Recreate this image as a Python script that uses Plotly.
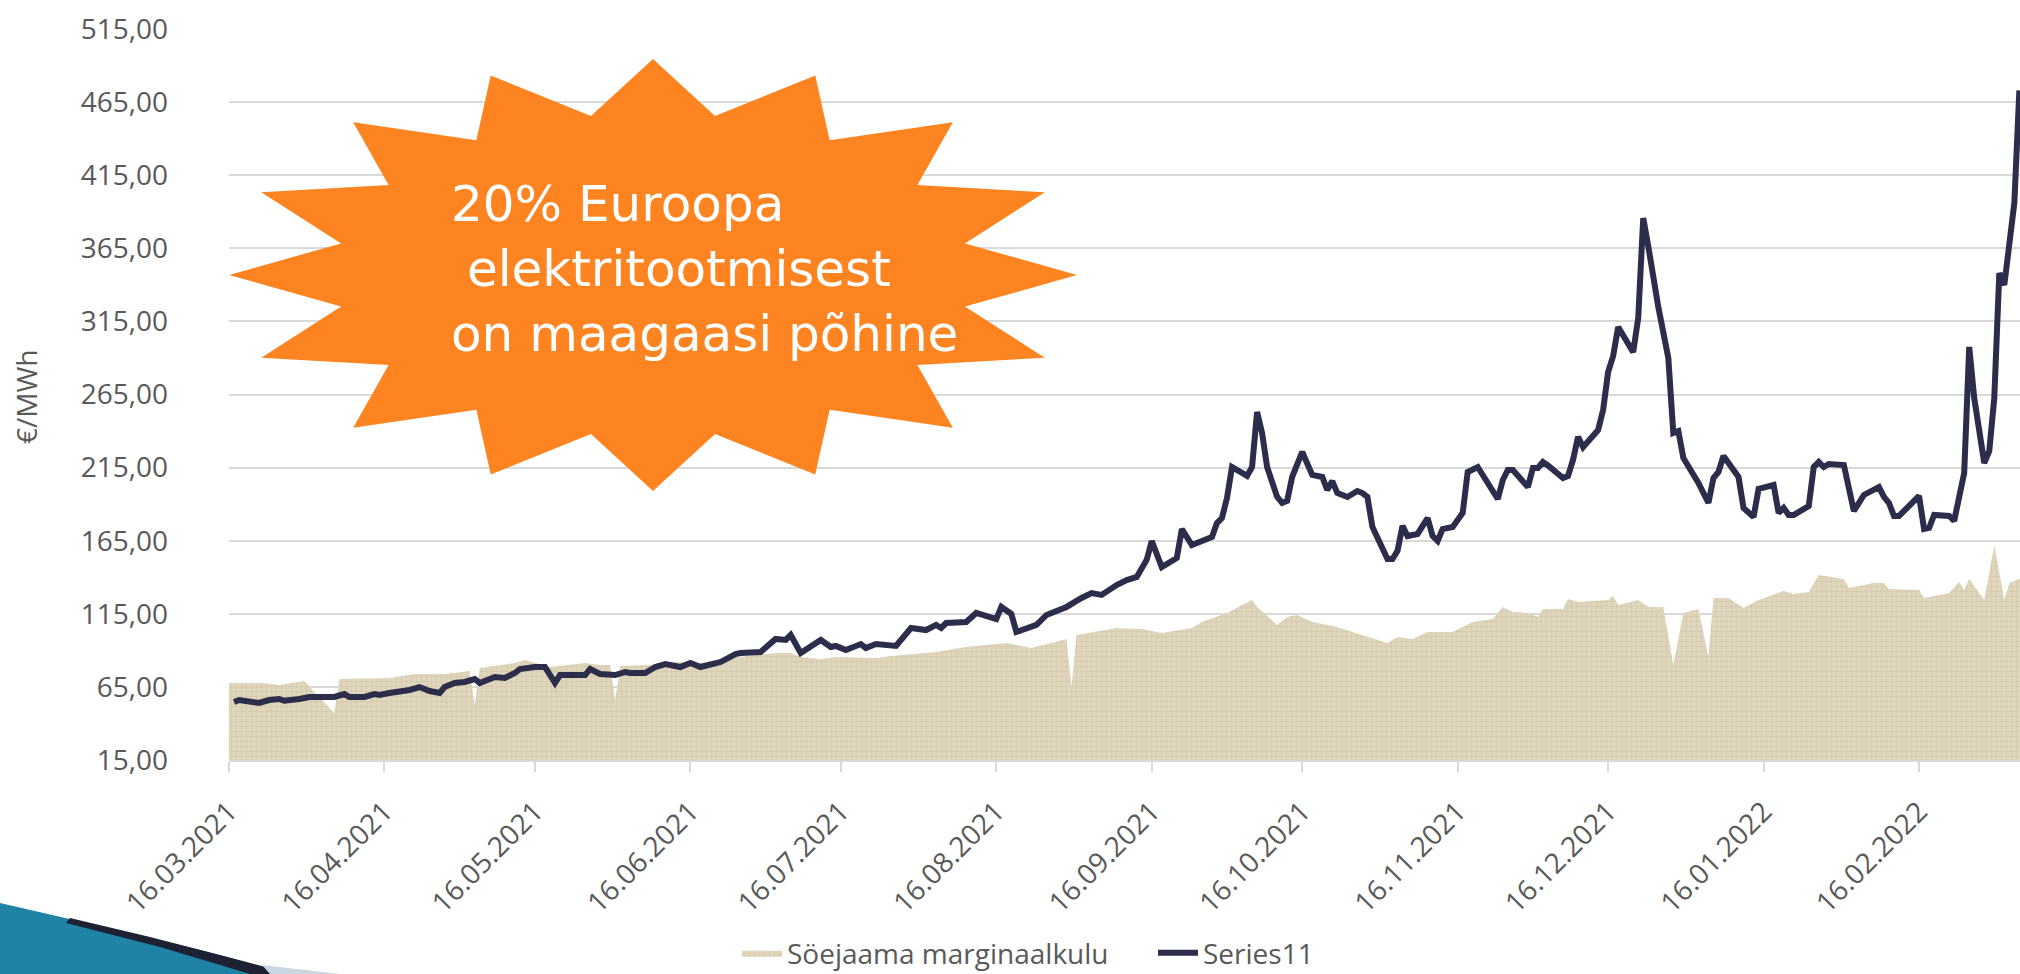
import math
import pandas as pd
import plotly.graph_objects as go

START = pd.Timestamp("2021-03-16")

# Series11 (line): day offset from 16.03.2021 and price in EUR/MWh
line_day = [1, 2, 6, 8, 10, 11, 14, 16, 21, 23, 24, 27, 29, 30, 32, 34, 36, 38, 40, 42,
            43, 45, 47, 49, 50, 53, 55, 57, 58, 61, 63, 65, 66, 69, 71, 72, 74, 77, 79, 80,
            83, 85, 87, 90, 92, 94, 98, 101, 102, 106, 109, 111, 112, 114, 118, 120, 121, 123, 125, 126,
            127, 129, 133, 134, 136, 139, 141, 142, 143, 147, 149, 153, 154, 156, 157, 161, 163, 167, 169, 170,
            172, 174, 177, 179, 181, 183, 184, 186, 189, 190, 192, 196, 197, 198, 199, 200, 203, 204, 205, 206,
            207, 209, 210, 211, 212, 214, 216, 218, 219, 220, 221, 223, 225, 226, 227, 228, 231, 232, 233, 234,
            235, 237, 239, 240, 241, 242, 244, 246, 247, 249, 253, 254, 255, 256, 259, 260, 261, 262, 263, 266,
            267, 268, 269, 270, 273, 274, 275, 276, 277, 280, 281, 282, 283, 285, 287, 288, 289, 290, 293, 295,
            296, 297, 298, 301, 302, 304, 305, 308, 309, 310, 311, 312, 315, 316, 317, 318, 319, 322, 324, 326,
            329, 330, 331, 332, 333, 335, 337, 338, 339, 340, 343, 344, 346, 347, 348, 350, 351, 352, 353, 354,
            355, 356, 357]
line_val = [54.7, 56.0, 54.0, 56.0, 56.7, 55.5, 56.7, 58.1, 58.1, 60.1, 58.1, 58.1, 60.1, 59.5, 60.8, 61.5, 62.9, 64.9, 62.2, 60.8,
            64.9, 67.7, 68.4, 70.4, 67.7, 71.8, 71.1, 74.5, 77.2, 78.6, 78.6, 67.7, 73.1, 73.1, 73.1, 77.2, 73.8, 73.1, 75.2, 74.5,
            74.5, 78.6, 80.6, 78.6, 81.3, 78.6, 82.0, 87.5, 88.2, 88.9, 97.8, 97.1, 100.5, 88.2, 97.1, 92.3, 93.0, 90.2, 92.3, 94.3,
            91.6, 94.3, 93.0, 97.1, 105.3, 103.9, 107.4, 105.3, 108.7, 109.4, 115.6, 111.4, 119.7, 114.9, 102.6, 107.4, 114.2, 119.7, 124.4, 125.8,
            129.2, 127.9, 134.7, 138.1, 140.2, 152.0, 164.8, 147.0, 153.2, 173.0, 162.0, 167.5, 177.1, 180.5, 194.2, 215.4, 209.3, 215.4, 253.0, 238.7,
            215.4, 195.0, 190.8, 192.2, 208.6, 225.7, 210.0, 208.6, 199.7, 205.8, 197.6, 194.9, 199.0, 197.6, 194.9, 174.4, 152.5, 152.5, 158.0, 175.1,
            168.2, 169.6, 180.5, 168.2, 164.8, 173.0, 174.4, 184.0, 212.0, 215.4, 193.5, 206.5, 213.4, 213.4, 201.7, 214.7, 214.7, 218.8, 216.5, 207.9,
            209.3, 220.2, 236.0, 229.0, 240.7, 254.4, 280.4, 291.3, 311.2, 294.0, 317.3, 385.7, 366.6, 324.9, 290.0, 238.7, 240.0, 221.6, 204.5, 190.8,
            207.9, 212.0, 223.0, 208.6, 187.4, 181.2, 200.4, 203.1, 184.0, 187.4, 182.6, 182.6, 188.7, 215.4, 218.8, 215.4, 217.5, 216.8, 185.3, 196.3,
            201.7, 195.0, 190.8, 181.9, 181.9, 188.7, 195.6, 173.0, 173.7, 182.6, 181.9, 178.5, 211.3, 297.5, 262.6, 218.1, 226.4, 262.6, 348.0, 339.9,
            365.9, 396.0, 473.0]

# Söejaama marginaalkulu (area): day offset and EUR/MWh
area_day = [0, 7, 10, 15, 21, 22, 32, 37, 43, 48, 49, 50, 57, 59, 64, 71, 74, 76, 77, 78,
            84, 87, 91, 92, 98, 106, 109, 112, 114, 118, 121, 129, 132, 141, 147, 155, 160, 167, 168, 169,
            177, 182, 186, 192, 194, 199, 204, 205, 209, 211, 213, 216, 221, 224, 231, 233, 236, 239, 244, 248,
            252, 254, 256, 259, 261, 262, 266, 267, 269, 275, 276, 277, 281, 283, 286, 288, 290, 293, 295, 296,
            299, 302, 305, 310, 312, 315, 317, 322, 323, 328, 330, 331, 337, 338, 343, 345, 346, 347, 350, 352,
            354, 355, 358]
area_val = [67.7, 67.7, 66.3, 69.0, 47.2, 70.4, 71.1, 73.8, 73.8, 75.9, 52.6, 77.9, 81.3, 83.4, 78.6, 81.3, 80.0, 80.0, 56.0, 79.3,
            80.0, 82.0, 82.0, 80.0, 84.0, 86.8, 88.2, 88.2, 85.5, 84.1, 85.5, 84.8, 86.1, 88.9, 92.3, 95.0, 91.6, 97.8, 65.0, 100.5,
            105.3, 104.6, 101.9, 105.3, 109.4, 115.6, 124.4, 119.7, 107.4, 112.8, 114.2, 109.4, 106.0, 102.6, 95.0, 99.1, 97.8, 102.6, 102.6, 109.4,
            111.4, 119.7, 116.2, 115.6, 112.8, 118.3, 118.3, 125.1, 123.1, 124.4, 127.2, 121.0, 124.4, 119.7, 119.7, 80.0, 115.6, 118.3, 85.5, 125.8,
            125.8, 119.0, 124.4, 130.6, 128.5, 129.9, 141.5, 138.8, 132.6, 136.1, 136.1, 132.0, 131.3, 125.8, 129.2, 136.8, 131.3, 138.8, 124.4, 162.0,
            124.4, 136.1, 140.2]

tick_dates = ["2021-03-16", "2021-04-16", "2021-05-16", "2021-06-16", "2021-07-16", "2021-08-16",
              "2021-09-16", "2021-10-16", "2021-11-16", "2021-12-16", "2022-01-16", "2022-02-16"]
tick_text = ["16.03.2021", "16.04.2021", "16.05.2021", "16.06.2021", "16.07.2021", "16.08.2021",
             "16.09.2021", "16.10.2021", "16.11.2021", "16.12.2021", "16.01.2022", "16.02.2022"]
y_ticks = [15, 65, 115, 165, 215, 265, 315, 365, 415, 465, 515]

series_names = ["Söejaama marginaalkulu", "Series11"]
callout_lines = ["20% Euroopa", "\u00a0elektritootmisest", "on maagaasi põhine"]
y_title = "€/MWh"

# ---------------------------------------------------------------- layout geometry
# body margin is removed by the post script, so figure pixels == page pixels
W, H = 2020, 974
ML, MT, MR, MB = 229, 29, 0, 974 - 760
PW, PH = W - ML - MR, H - MT - MB


def px2x(px):
    return (px - ML) / PW


def py2y(py):
    return (H - MB - py) / PH


line_x = [(START + pd.Timedelta(days=d)).strftime("%Y-%m-%d") for d in line_day]
area_x = [(START + pd.Timedelta(days=d)).strftime("%Y-%m-%d") for d in area_day]
x_end = (START + pd.Timedelta(days=PW / 5.015)).strftime("%Y-%m-%d %H:%M")

FONT = "Open Sans"
GREY = "#595959"

fig = go.Figure()
fig.add_trace(go.Scatter(
    x=area_x, y=area_val, name=series_names[0], mode="lines",
    line=dict(width=0, color="#DCD2B8"), fill="tozeroy", fillcolor="#DED4BB",
    fillpattern=dict(shape="+", bgcolor="#E0D6BD", fgcolor="#C2B591", size=5, solidity=0.22),
    cliponaxis=True,
))
fig.add_trace(go.Scatter(
    x=line_x, y=line_val, name=series_names[1], mode="lines",
    line=dict(width=6, color="#2B2D4B"),
))

# star burst callout
cx, cy = px2x(653), py2y(275)
rx, ry = 424 / PW, 216 / PH
pts = []
for k in range(32):
    ang = math.radians(90 - k * 11.25)
    r = 1.0 if k % 2 == 0 else 0.75
    pts.append((cx + r * rx * math.cos(ang), cy + r * ry * math.sin(ang)))
star_path = "M " + " L ".join(f"{x:.5f},{y:.5f}" for x, y in pts) + " Z"


def ppath(points):
    return "M " + " L ".join(f"{px2x(a):.5f},{py2y(b):.5f}" for a, b in points) + " Z"


shapes = [
    dict(type="path", xref="paper", yref="paper", path=star_path,
         fillcolor="#FD8420", line=dict(width=0), layer="above"),
    # decorative swoosh bottom-left
    dict(type="path", xref="paper", yref="paper",
         path=ppath([(0, 903), (100, 926), (200, 950), (290, 974), (0, 974)]),
         fillcolor="#1F83A6", line=dict(width=0)),
    dict(type="path", xref="paper", yref="paper",
         path=ppath([(70, 918), (150, 937), (220, 955), (292, 974), (250, 974), (160, 947), (66, 923)]),
         fillcolor="#1C2233", line=dict(width=0)),
    dict(type="path", xref="paper", yref="paper",
         path=ppath([(262, 965), (340, 974), (270, 974)]),
         fillcolor="#C9D7E2", line=dict(width=0)),
]

annotations = [dict(
    text="<br>".join(callout_lines), xref="paper", yref="paper",
    x=px2x(449), y=py2y(288 - 19), xanchor="left", yanchor="middle", align="left",
    showarrow=False, font=dict(family="DejaVu Sans", size=50, color="white"),
)]
annotations.append(dict(
    text=y_title, xref="paper", yref="paper", x=px2x(26), y=py2y(397),
    xanchor="center", yanchor="middle", showarrow=False, textangle=-90,
    font=dict(family=FONT, size=28, color=GREY),
))

fig.update_layout(
    width=W, height=H,
    margin=dict(l=ML, r=MR, t=MT, b=MB, autoexpand=False),
    paper_bgcolor="white", plot_bgcolor="white",
    separators=", ",
    font=dict(family=FONT, size=26, color=GREY),
    showlegend=True,
    legend=dict(orientation="h", x=px2x(737), xanchor="left", y=py2y(953), yanchor="middle",
                font=dict(family=FONT, size=28, color=GREY), itemwidth=40,
                entrywidth=361, entrywidthmode="pixels",
                bgcolor="rgba(0,0,0,0)"),
    shapes=shapes,
    annotations=annotations,
)
fig.update_xaxes(
    type="date", range=["2021-03-16", x_end], autorange=False,
    tickmode="array", tickvals=tick_dates, ticktext=tick_text, tickangle=-45,
    ticks="outside", ticklen=10, tickwidth=2, tickcolor="#D9D9D9",
    showline=True, linecolor="#D9D9D9", linewidth=2,
    showgrid=False, zeroline=False, ticklabelstandoff=12,
    tickfont=dict(family=FONT, size=28, color=GREY),
)
fig.update_yaxes(
    range=[15, 515], autorange=False, tickmode="array", tickvals=y_ticks, tickformat=".2f",
    showgrid=True, gridcolor="#D9D9D9", gridwidth=2,
    zeroline=False, showline=False, ticks="",
    ticklabelstandoff=60,
    tickfont=dict(family=FONT, size=28, color=GREY),
)

fig.write_html(
    "out.html",
    config={"displayModeBar": False},
    post_script=("document.documentElement.style.overflow='hidden';"
                 "document.body.style.overflow='hidden';"
                 "document.body.style.margin='0';"),
)
